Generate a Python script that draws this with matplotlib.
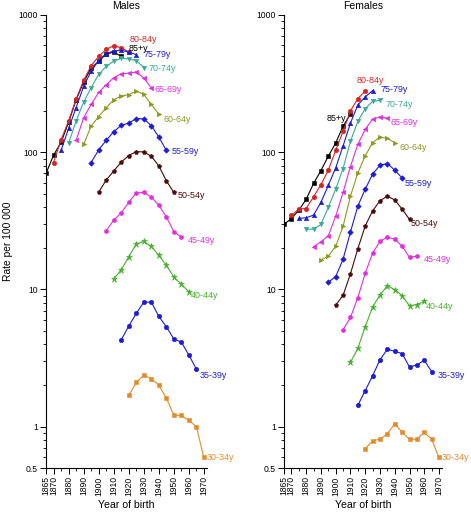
import numpy as np
import matplotlib
matplotlib.use("Agg")
import matplotlib.pyplot as plt
from matplotlib.ticker import FixedLocator, NullFormatter, LogLocator

plt.rcParams['font.family'] = ['Liberation Sans', 'DejaVu Sans']

# ---- data: rate per 100 000 by year of birth, 5-year cohorts ----
age_groups = ['85+y', '80-84y', '75-79y', '70-74y', '65-69y', '60-64y',
              '55-59y', '50-54y', '45-49y', '40-44y', '35-39y', '30-34y']

male_start = [1865, 1870, 1875, 1880, 1885, 1890, 1895, 1900, 1905, 1910, 1915, 1920]
male_rates = [
    [70, 95, 118, 165, 240, 325, 410, 460, 520, 536, 500],
    [84, 123, 169, 244, 334, 427, 499, 562, 597, 577, 539],
    [103, 149, 211, 302, 390, 466, 524, 546, 555, 535, 515],
    [116, 169, 232, 295, 369, 422, 461, 483, 478, 466, 414],
    [122, 178, 223, 273, 310, 349, 373, 377, 385, 347, 295],
    [114, 155, 182, 211, 241, 257, 263, 279, 264, 223, 189],
    [84, 104, 122, 141, 157, 163, 176, 175, 156, 129, 103],
    [51.2, 62.6, 73, 84.6, 94.6, 101, 100.5, 93.5, 79.5, 61.8, 50.9],
    [26.8, 32.0, 36.2, 43.1, 50.6, 50.9, 47.1, 41.0, 33.8, 26.3, 24.1],
    [11.9, 13.9, 17.3, 21.4, 22.4, 20.6, 17.7, 15.0, 12.3, 10.9, 9.6],
    [4.29, 5.42, 6.69, 8.08, 8.08, 6.36, 5.35, 4.35, 4.13, 3.32, 2.62],
    [1.69, 2.10, 2.37, 2.24, 2.01, 1.61, 1.21, 1.21, 1.11, 1.0, 0.60],
]

female_start = [1865, 1870, 1875, 1880, 1885, 1890, 1895, 1900, 1905, 1910, 1915, 1920]
female_rates = [
    [29.9, 32.8, 37.8, 45.3, 59.2, 73.5, 93.5, 116.8, 154.6, 190],
    [34.6, 38.5, 38.9, 47.3, 57.9, 74, 103, 142, 200, 246, 279],
    [32.9, 33.3, 34.8, 43.1, 57.3, 76.9, 111, 163, 221, 253, 281],
    [27.5, 27.5, 29.8, 39.6, 53.8, 76.1, 120, 168, 208, 235, 239],
    [20.5, 22.3, 24.6, 34.2, 50.9, 78.7, 114, 147, 174, 181, 177],
    [16.4, 17.5, 20.6, 28.8, 47.9, 70.7, 94.0, 117.6, 129, 126, 117.6],
    [11.3, 12.4, 16.6, 26.2, 40.5, 53.8, 69.2, 80.5, 82.7, 74.0, 64.9],
    [7.68, 9.06, 13.0, 19.8, 29.0, 37.4, 44.3, 47.9, 44.9, 38.5, 32.4],
    [5.08, 6.25, 8.73, 13.1, 18.4, 22.4, 24.1, 23.2, 20.7, 17.1, 17.5],
    [2.94, 3.72, 5.35, 7.46, 9.1, 10.66, 9.97, 9.0, 7.6, 7.76, 8.18],
    [1.43, 1.83, 2.35, 3.07, 3.67, 3.54, 3.41, 2.72, 2.82, 3.05, 2.52],
    [0.69, 0.79, 0.81, 0.89, 1.05, 0.91, 0.81, 0.81, 0.91, 0.81, 0.60],
]

# the youngest cohort's last point sits just short of 1970
last_year_30_34 = 1969.8

colors = ['#000000', '#d42424', '#1c1cd4', '#3aa898', '#e02ee0', '#8c9a1e',
          '#1c1cd4', '#4a0a0a', '#e02ee0', '#46b02c', '#1c1cd4', '#e08c2c']
markers = ['s', 'o', '^', 'v', '<', '>', 'D', 'p', 'h', '*', 'o', 's']

# label anchors (year, rate)
male_labels = [(1919.6, 574), (1920.3, 663), (1929.6, 515), (1933.2, 406),
               (1936.9, 287), (1942.9, 173), (1948.5, 101.7), (1952.5, 48.1),
               (1959.1, 22.8), (1961.1, 9.0), (1966.9, 2.37), (1971.8, 0.60)]
female_labels = [(1907.1, 177), (1914.2, 334), (1930.4, 286), (1934.0, 224),
                 (1936.8, 165), (1943.3, 108), (1946.9, 59), (1951.0, 30.3),
                 (1959.8, 16.6), (1961.0, 7.5), (1968.7, 2.37), (1971.9, 0.60)]

xtick_major = [1865, 1870, 1880, 1890, 1900, 1910, 1920, 1930, 1940, 1950, 1960, 1970]
xtick_minor = [1875, 1885, 1895, 1905, 1915, 1925, 1935, 1945, 1955, 1965]


def years_for(start, n, is_last):
    yrs = list(start + 5 * np.arange(n, dtype=float))
    if is_last:
        yrs[-1] = last_year_30_34
    return yrs


def draw_panel(ax, starts, rates, labels, title, xmax):
    for i, grp in enumerate(age_groups):
        yrs = years_for(starts[i], len(rates[i]), grp == '30-34y')
        ms = 4.5 if markers[i] == '*' else 3.2
        if markers[i] == 'D':
            ms = 2.8
        ax.plot(yrs, rates[i], color=colors[i], marker=markers[i], markersize=ms,
                markeredgewidth=0.4, linewidth=0.8)
        lx, ly = labels[i]
        ha = 'right' if (title == 'Females' and grp == '85+y') else 'left'
        ax.text(lx, ly, grp, color=colors[i], fontsize=6.4, ha=ha, va='center')

    ax.set_yscale('log')
    ax.set_ylim(0.5, 1000)
    ax.set_xlim(1865, xmax)
    ax.yaxis.set_major_locator(FixedLocator([0.5, 1, 10, 100, 1000]))
    ax.set_yticklabels(['0.5', '1', '10', '100', '1000'])
    ax.yaxis.set_minor_locator(LogLocator(base=10, subs=np.arange(2, 10)))
    ax.yaxis.set_minor_formatter(NullFormatter())
    ax.xaxis.set_major_locator(FixedLocator(xtick_major))
    ax.xaxis.set_minor_locator(FixedLocator(xtick_minor))
    ax.set_xticklabels([str(t) for t in xtick_major], rotation=90)

    for side in ('top', 'right'):
        ax.spines[side].set_visible(False)
    ax.spines['left'].set_linewidth(0.8)
    ax.spines['bottom'].set_linewidth(0.8)
    ax.tick_params(which='major', length=4, width=0.7, labelsize=6.2, pad=2)
    ax.tick_params(which='minor', length=2.5, width=0.6)
    ax.set_title(title, fontsize=7.5, pad=4)
    ax.set_xlabel('Year of birth', fontsize=7.6, labelpad=3)


fig = plt.figure(figsize=(4.71, 5.16), dpi=100)
ax_m = fig.add_axes([46 / 471, 48 / 516, 161 / 471, 453 / 516])
ax_f = fig.add_axes([284 / 471, 48 / 516, 158 / 471, 453 / 516])

draw_panel(ax_m, male_start, male_rates, male_labels, 'Males', 1972)
draw_panel(ax_f, female_start, female_rates, female_labels, 'Females', 1972)
ax_m.set_ylabel('Rate per 100 000', fontsize=7.4, labelpad=4)

fig.savefig('out.png', dpi=100)
